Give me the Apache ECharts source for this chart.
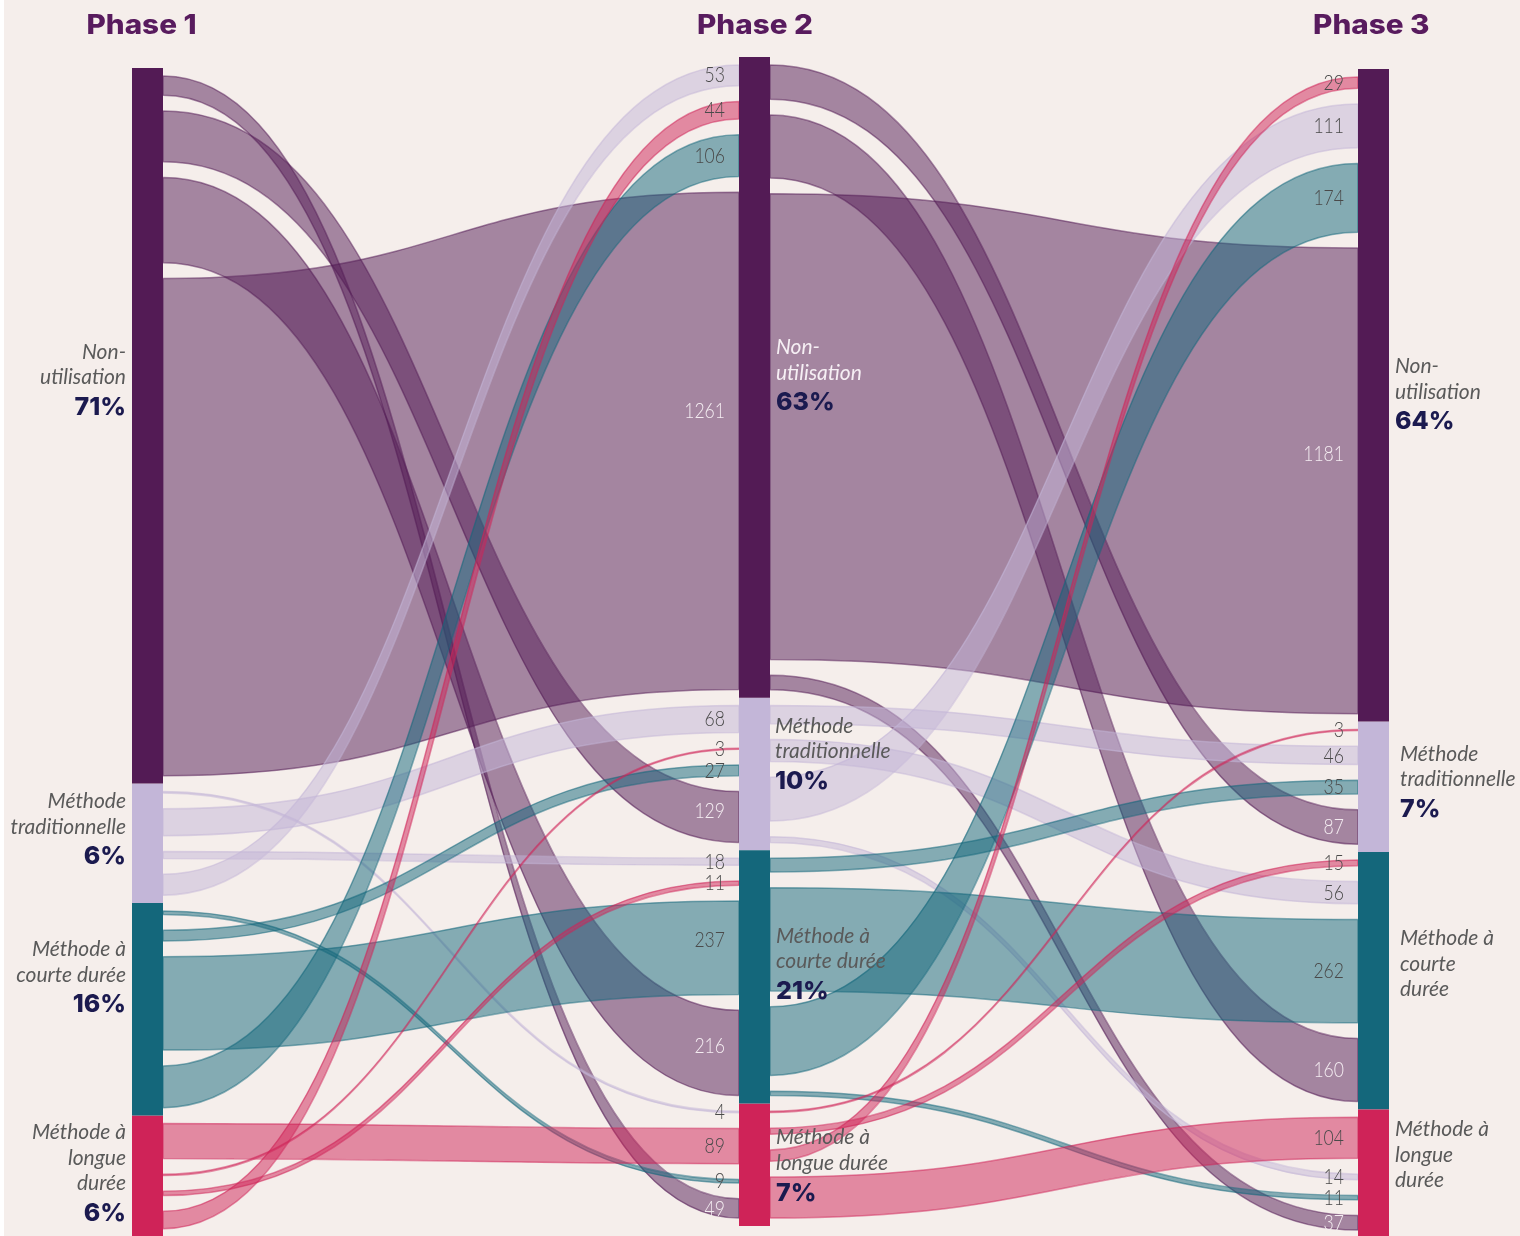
<!DOCTYPE html>
<html><head><meta charset="utf-8">
<script src="https://cdn.jsdelivr.net/npm/echarts@6/dist/echarts.min.js"></script>
<style>html,body{margin:0;padding:0;background:#f5eeeb}#c{width:1520px;height:1236px}</style>
</head><body><div id="c"></div>
<script>
// ---------------- DATA ----------------
const phases = ['Phase 1', 'Phase 2', 'Phase 3'];
const categories = ['Non-utilisation', 'Méthode traditionnelle', 'Méthode à courte durée', 'Méthode à longue durée'];
// rows = source category, columns = target category
const flows12 = [
  [1261, 129, 216, 49],
  [53, 68, 18, 4],
  [106, 27, 237, 9],
  [44, 3, 11, 89]
];
const flows23 = [
  [1181, 87, 160, 37],
  [111, 46, 56, 14],
  [174, 35, 262, 11],
  [29, 3, 15, 104]
];
const sharesPhase1 = ['71%', '6%', '16%', '6%'];
const sharesPhase2 = ['63%', '10%', '21%', '7%'];
const sharesPhase3 = ['64%', '7%', '', ''];
const namesPhase1 = ['Non-\nutilisation', 'Méthode\ntraditionnelle', 'Méthode à\ncourte durée', 'Méthode à\nlongue\ndurée'];
const namesPhase2 = ['Non-\nutilisation', 'Méthode\ntraditionnelle', 'Méthode à\ncourte durée', 'Méthode à\nlongue durée'];
const namesPhase3 = ['Non-\nutilisation', 'Méthode\ntraditionnelle', 'Méthode à\ncourte\ndurée', 'Méthode à\nlongue\ndurée'];

// ---------------- STYLE / LAYOUT ----------------
const COLORS = ['#531b55', '#c3b6d8', '#14677b', '#cf2358'];
const BG = '#f5eeeb';
const LAYOUT = {
  left: 132, top: 57, width: 1257, height: 1169, nodeWidth: 31,
  colX: [132, 739, 1358], colTop: [68, 57, 69], linkPad: 20,
  titleX: [141.5, 755, 1371.3], titleY: 26, linkBorder: 1.5
};
// order in which the sankey stacks each column internally (drives link-end ordering)
const linkStackOrder = [[1, 3, 2, 0], [3, 1, 2, 0], [1, 2, 0, 3]];
const LABEL_DY = [[-44, -12, -30, -1], [0, -18, -11, 3], [1, -3, -17, -19]];
const LABEL_DIST = [[6, 6, 6, 6], [6, 5, 6, 6], [6, 11, 11, 6]];
// fine vertical nudges of a few value labels: key = stage-source-target
const VALUE_LABEL_DY = { '0-0-0': -30, '1-0-0': -27, '0-0-1': -6, '0-2-2': -8, '0-0-2': -7 };

const flows = [flows12, flows23];
const shares = [sharesPhase1, sharesPhase2, sharesPhase3];
const names = [namesPhase1, namesPhase2, namesPhase3];
const PAD = LAYOUT.linkPad;
const id = (p, c) => phases[p] + ' · ' + categories[c];

function inSum(p, c) { if (p === 0) return 0; let s = 0; flows[p - 1].forEach(r => { s += r[c] + 2 * PAD; }); return s; }
function outSum(p, c) { if (p === phases.length - 1) return 0; let s = 0; flows[p][c].forEach(v => { s += v + 2 * PAD; }); return s; }
const nodeVal = phases.map((_, p) => categories.map((_, c) => Math.max(inSum(p, c), outSum(p, c))));
const colSum = nodeVal.map(r => r.reduce((a, b) => a + b, 0));
const k = LAYOUT.height / Math.max(...colSum);
const nodeTop = nodeVal.map((r, p) => { let y = LAYOUT.colTop[p]; return r.map(v => { const t = y; y += v * k; return t; }); });

const nodes = [];
phases.forEach((ph, p) => {
  linkStackOrder[p].forEach(c => {
    const lines = names[p][c].split('\n').map(s => '{t|' + s + '}');
    if (shares[p][c]) lines.push('{p|' + shares[p][c] + '}');
    nodes.push({
      name: id(p, c),
      localX: (LAYOUT.colX[p] - LAYOUT.left) / LAYOUT.width,
      localY: (nodeTop[p][c] - LAYOUT.top) / LAYOUT.height,
      itemStyle: { color: COLORS[c], opacity: 1 },
      label: {
        show: true,
        position: p === 0 ? 'left' : 'right',
        distance: LABEL_DIST[p][c],
        offset: [0, LABEL_DY[p][c]],
        formatter: lines.join('\n'),
        rich: {
          t: { fontFamily: 'Lato', fontStyle: 'italic', fontSize: 21, lineHeight: 25.5,
               color: (p === 1 && c === 0) ? '#f6eff4' : '#5a5a5a' },
          p: { fontFamily: 'Inter', fontWeight: 800, fontSize: 25, lineHeight: 34.5, color: '#1b1a4f' }
        }
      }
    });
  });
});

const links = [];
const spacer = (s, t) => ({ source: s, target: t, value: PAD, lineStyle: { opacity: 0 }, label: { show: false } });
flows.forEach((m, p) => {
  m.forEach((row, s) => {
    row.forEach((v, t) => {
      const a = id(p, s), b = id(p + 1, t);
      links.push(spacer(a, b));
      links.push({ source: a, target: b, value: v,
        lineStyle: { color: COLORS[s], borderColor: COLORS[s], borderWidth: LAYOUT.linkBorder, opacity: 0.5 } });
      links.push(spacer(a, b));
    });
  });
});

// value labels at the target end of each link
const graphics = [];
flows.forEach((m, p) => {
  categories.forEach((_, t) => {
    let off = 0;
    linkStackOrder[p].forEach(s => {
      const v = m[s][t];
      const yc = nodeTop[p + 1][t] + (off + PAD + v / 2) * k + (VALUE_LABEL_DY[p + '-' + s + '-' + t] || 0);
      off += v + 2 * PAD;
      graphics.push({
        type: 'text', x: LAYOUT.colX[p + 1] - 14, y: yc, scaleX: 0.8, z: 100, silent: true,
        style: { text: String(v), fill: s === 0 ? '#f4ecf1' : '#4a4a4a', font: '300 22px Lato',
                 textAlign: 'right', textVerticalAlign: 'middle' }
      });
    });
  });
});
phases.forEach((ph, p) => {
  graphics.push({
    type: 'text', x: LAYOUT.titleX[p], y: LAYOUT.titleY, scaleX: 1.1, z: 100, silent: true,
    style: { text: ph, fill: '#581b5e', font: '800 27px Inter', textAlign: 'center', textVerticalAlign: 'middle' }
  });
});
graphics.push({ type: 'rect', shape: { x: 0, y: 0, width: 4, height: 1236 }, style: { fill: '#ffffff' }, z: 100, silent: true });

const chart = echarts.init(document.getElementById('c'), null, { renderer: 'canvas' });
chart.setOption({
  backgroundColor: BG,
  animation: false,
  graphic: { elements: graphics },
  series: [{
    type: 'sankey',
    left: LAYOUT.left, top: LAYOUT.top, width: LAYOUT.width, height: LAYOUT.height,
    nodeWidth: LAYOUT.nodeWidth, nodeGap: 0, layoutIterations: 0, draggable: false,
    emphasis: { disabled: true },
    lineStyle: { curveness: 0.5 },
    data: nodes,
    links: links
  }]
});
</script></body></html>
